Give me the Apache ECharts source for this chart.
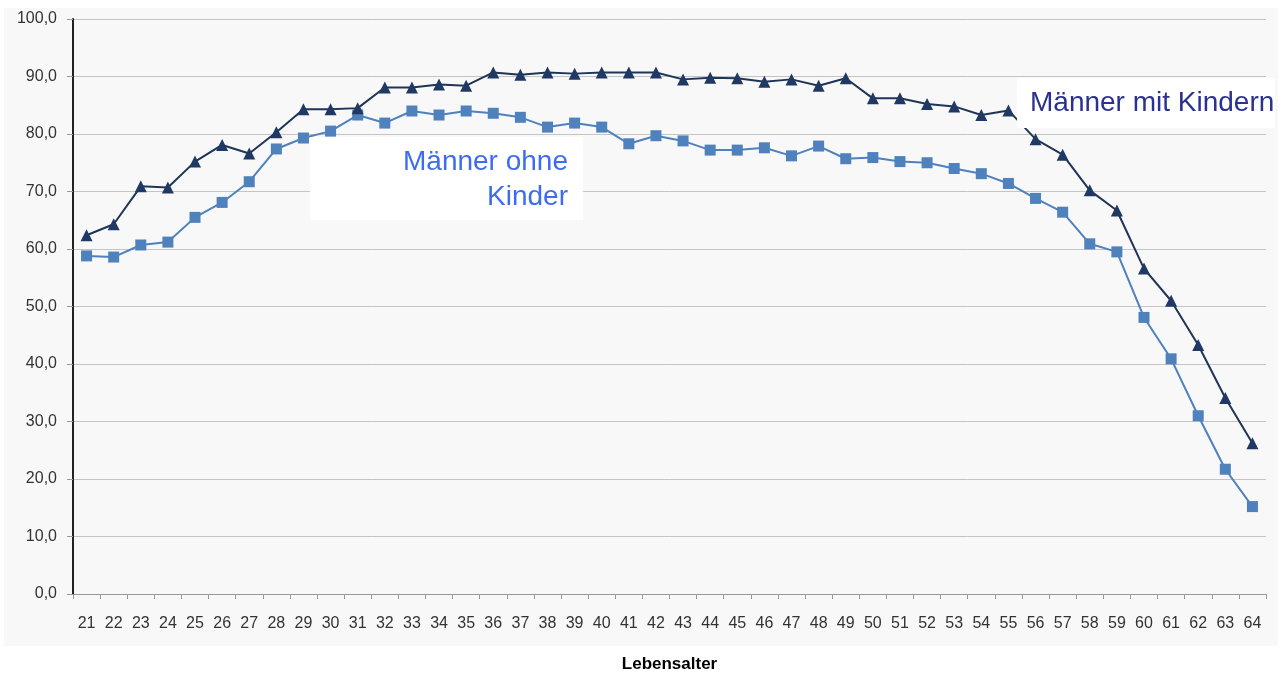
<!DOCTYPE html>
<html><head><meta charset="utf-8">
<script src="https://cdn.jsdelivr.net/npm/echarts@6/dist/echarts.min.js"></script>
<style>html,body{margin:0;padding:0;background:#fff}#c{width:1285px;height:678px}</style>
</head><body><div id="c"></div>
<script>
const ages = ['21','22','23','24','25','26','27','28','29','30','31','32','33','34','35','36','37','38','39','40','41','42','43','44','45','46','47','48','49','50','51','52','53','54','55','56','57','58','59','60','61','62','63','64'];
const mitKindern = [62.4,64.3,70.9,70.7,75.2,78.1,76.6,80.3,84.3,84.3,84.5,88.1,88.1,88.6,88.4,90.7,90.3,90.7,90.5,90.7,90.7,90.7,89.5,89.8,89.7,89.1,89.5,88.4,89.7,86.2,86.2,85.2,84.8,83.3,84.1,79.1,76.4,70.2,66.7,56.6,51.0,43.3,34.1,26.2];
const ohneKinder = [58.8,58.6,60.7,61.2,65.5,68.1,71.7,77.4,79.3,80.5,83.3,81.9,84.0,83.3,84.0,83.6,82.9,81.2,81.9,81.2,78.3,79.7,78.8,77.2,77.2,77.6,76.2,77.9,75.7,75.9,75.2,75.0,74.0,73.1,71.4,68.8,66.4,60.9,59.5,48.1,40.9,31.0,21.7,15.2];
const yTicks = [0,10,20,30,40,50,60,70,80,90,100];

const chart = echarts.init(document.getElementById('c'));
const font = 'Liberation Sans, Arial, sans-serif';
chart.setOption({
  backgroundColor: '#ffffff',
  animation: false,
  grid: {left: 73, right: 19, top: 19, bottom: 79},
  xAxis: {
    type: 'category', data: ages, boundaryGap: true,
    axisLine: {lineStyle: {color: '#9a9a9a', width: 1}},
    axisTick: {show: true, length: 5, lineStyle: {color: '#9a9a9a'}},
    axisLabel: {color: '#333', fontFamily: font, fontSize: 16, margin: 22, interval: 0},
    name: 'Lebensalter', nameLocation: 'middle', nameGap: 62,
    nameTextStyle: {fontFamily: font, fontSize: 17, fontWeight: 'bold', color: '#000'}
  },
  yAxis: {
    type: 'value', min: 0, max: 100, interval: 10,
    axisLine: {show: true, lineStyle: {color: '#222', width: 2}},
    axisTick: {show: true, length: 6, lineStyle: {color: '#9a9a9a'}},
    splitLine: {lineStyle: {color: '#c4c4c4', width: 1}},
    axisLabel: {color: '#333', fontFamily: font, fontSize: 16, margin: 16,
      formatter: v => yTicks.includes(v) ? v.toFixed(1).replace('.', ',') : ''}
  },
  graphic: [
    {type: 'rect', z: -10, silent: true, shape: {x: 4, y: 8, width: 1274, height: 638}, style: {fill: '#f8f8f8'}},
    {type: 'rect', z: 100, shape: {x: 310, y: 137, width: 273, height: 83}, style: {fill: '#ffffff'}},
    {type: 'text', z: 101, style: {x: 568, y: 145, text: 'Männer ohne\nKinder', align: 'right', fill: '#3d6cf0', fontFamily: font, fontSize: 28, lineHeight: 35}},
    {type: 'rect', z: 100, shape: {x: 1017, y: 78, width: 258, height: 50}, style: {fill: '#ffffff'}},
    {type: 'text', z: 101, style: {x: 1030, y: 89, text: 'Männer mit Kindern', align: 'left', fill: '#2b3190', fontFamily: font, fontSize: 28}}
  ],
  series: [
    {name: 'Männer ohne Kinder', type: 'line', data: ohneKinder, symbol: 'rect', symbolSize: 11,
      lineStyle: {color: '#4f81bd', width: 2}, itemStyle: {color: '#4f81bd'}, z: 3},
    {name: 'Männer mit Kindern', type: 'line', data: mitKindern, symbol: 'triangle', symbolSize: 12,
      lineStyle: {color: '#1f3557', width: 2}, itemStyle: {color: '#1f3864'}, z: 4}
  ]
});
</script></body></html>
